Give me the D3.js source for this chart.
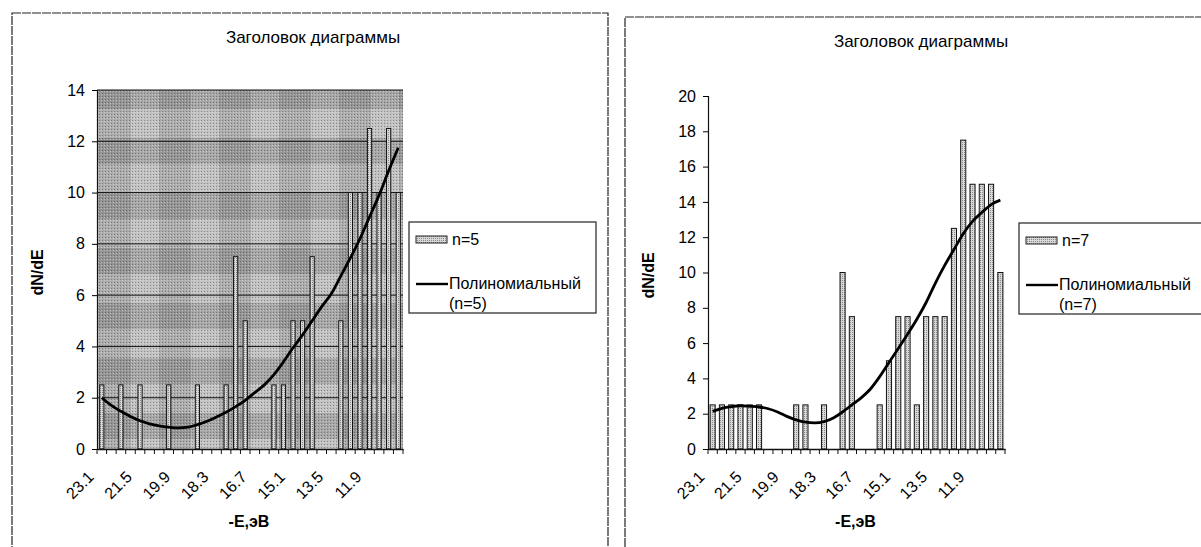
<!DOCTYPE html>
<html>
<head>
<meta charset="utf-8">
<script src="https://cdn.jsdelivr.net/npm/d3@7"></script>
<style>
    body { margin: 0; background: #fff; }
    svg { display: block; font-family: "Liberation Sans", Arial, sans-serif; }
</style>
</head>
<body>
<svg id="chart" width="1201" height="547"></svg>
<script>
// categories (-E, eV), one per column
var categories = ["23.1", "22.7", "22.3", "21.9", "21.5", "21.1", "20.7", "20.3",
    "19.9", "19.5", "19.1", "18.7", "18.3", "17.9", "17.5", "17.1",
    "16.7", "16.3", "15.9", "15.5", "15.1", "14.7", "14.3", "13.9",
    "13.5", "13.1", "12.7", "12.3", "11.9", "11.5", "11.1", "10.7"];
var xTickLabels = ["23.1", "21.5", "19.9", "18.3", "16.7", "15.1", "13.5", "11.9"];

// n=5 series and its polynomial trend
var valuesN5 = [2.5, 0, 2.5, 0, 2.5, 0, 0, 2.5, 0, 0, 2.5, 0, 0, 2.5, 7.5, 5,
    0, 0, 2.5, 2.5, 5, 5, 7.5, 0, 0, 5, 10, 10, 12.5, 10, 12.5, 10];
var trendN5 = [2.0, 1.7, 1.47, 1.27, 1.1, 0.98, 0.9, 0.85, 0.82, 0.85, 0.95, 1.08, 1.25, 1.43, 1.65, 1.9,
    2.2, 2.5, 2.9, 3.4, 3.95, 4.45, 5.0, 5.55, 6.05, 6.75, 7.45, 8.2, 9.05, 9.9, 10.85, 11.75];

// n=7 series and its polynomial trend
var valuesN7 = [2.5, 2.5, 2.5, 2.5, 2.5, 2.5, 0, 0, 0, 2.5, 2.5, 0, 2.5, 0, 10, 7.5,
    0, 0, 2.5, 5, 7.5, 7.5, 2.5, 7.5, 7.5, 7.5, 12.5, 17.5, 15, 15, 15, 10];
var trendN7 = [2.13, 2.3, 2.4, 2.45, 2.42, 2.38, 2.28, 2.1, 1.85, 1.65, 1.52, 1.48, 1.55, 1.76, 2.1, 2.5,
    2.9, 3.4, 4.1, 4.9, 5.7, 6.5, 7.35, 8.3, 9.4, 10.4, 11.3, 12.2, 12.9, 13.4, 13.85, 14.1];

var yTicksN5 = [0, 2, 4, 6, 8, 10, 12, 14];
var yTicksN7 = [0, 2, 4, 6, 8, 10, 12, 14, 16, 18, 20];

var chartTitle = "Заголовок диаграммы";
var yTitle = "dN/dE";
var xTitle = "-E,эВ";

var svg = d3.select("#chart");
var defs = svg.append("defs");

// scanned halftone look for the left plot area
var plaid = defs.append("pattern")
    .attr("id", "plaid")
    .attr("patternUnits", "userSpaceOnUse")
    .attr("width", 60).attr("height", 55)
    .attr("x", 97).attr("y", 83);
plaid.append("rect").attr("width", 60).attr("height", 55).attr("fill", "#c2c2c2");
plaid.append("rect").attr("x", 2).attr("width", 32).attr("height", 55).attr("fill", "#000").attr("opacity", 0.11);
plaid.append("rect").attr("y", 0).attr("width", 60).attr("height", 26).attr("fill", "#000").attr("opacity", 0.14);

var grain = defs.append("pattern")
    .attr("id", "grain")
    .attr("patternUnits", "userSpaceOnUse")
    .attr("width", 3).attr("height", 3);
grain.append("rect").attr("width", 1).attr("height", 1).attr("fill", "#000").attr("opacity", 0.3);
grain.append("rect").attr("x", 2).attr("y", 1).attr("width", 1).attr("height", 1).attr("fill", "#fff").attr("opacity", 0.35);

var barFill = defs.append("pattern")
    .attr("id", "barfill")
    .attr("patternUnits", "userSpaceOnUse")
    .attr("width", 2).attr("height", 2);
barFill.append("rect").attr("width", 2).attr("height", 2).attr("fill", "#d8d8d8");
barFill.append("rect").attr("width", 1).attr("height", 1).attr("fill", "#8a8a8a");

function drawChart(cfg) {
    var g = svg.append("g");

    // outer frame
    g.append("rect")
        .attr("x", cfg.frame[0]).attr("y", cfg.frame[1])
        .attr("width", cfg.frame[2]).attr("height", cfg.frame[3])
        .attr("fill", "none").attr("stroke", "#222").attr("stroke-width", 1.2)
        .attr("stroke-dasharray", "9,1");

    var x = d3.scaleBand()
        .domain(categories)
        .range([cfg.plot.x0, cfg.plot.x1])
        .paddingInner(cfg.pad)
        .paddingOuter(cfg.pad / 2);
    var y = d3.scaleLinear()
        .domain([0, cfg.yMax])
        .range([cfg.plot.y1, cfg.plot.y0]);

    if (cfg.background) {
        g.append("rect")
            .attr("x", cfg.plot.x0).attr("y", cfg.plot.y0)
            .attr("width", cfg.plot.x1 - cfg.plot.x0).attr("height", cfg.plot.y1 - cfg.plot.y0)
            .attr("fill", "url(#plaid)");
        g.append("rect")
            .attr("x", cfg.plot.x0).attr("y", cfg.plot.y0)
            .attr("width", cfg.plot.x1 - cfg.plot.x0).attr("height", cfg.plot.y1 - cfg.plot.y0)
            .attr("fill", "url(#grain)");
    }

    if (cfg.grid) {
        g.append("g")
            .selectAll("line")
            .data(cfg.yTicks.slice(1))
            .enter()
            .append("line")
            .attr("x1", cfg.plot.x0).attr("x2", cfg.plot.x1)
            .attr("y1", function (d) { return y(d); })
            .attr("y2", function (d) { return y(d); })
            .attr("stroke", "#111").attr("stroke-width", 1);
    }

    // bars
    g.append("g")
        .selectAll("rect")
        .data(cfg.values.map(function (v, i) { return { c: categories[i], v: v }; })
            .filter(function (d) { return d.v > 0; }))
        .enter()
        .append("rect")
        .attr("x", function (d) { return x(d.c); })
        .attr("y", function (d) { return y(d.v); })
        .attr("width", x.bandwidth())
        .attr("height", function (d) { return y(0) - y(d.v); })
        .attr("fill", "url(#barfill)")
        .attr("stroke", "#111").attr("stroke-width", 1);

    // y axis
    var yAxis = g.append("g")
        .attr("transform", "translate(" + cfg.plot.x0 + ",0)")
        .call(d3.axisLeft(y).tickValues(cfg.yTicks).tickSize(5).tickPadding(7));
    yAxis.select(".domain").attr("stroke", "#111").attr("stroke-width", 1.2);
    yAxis.selectAll("text").attr("font-size", 16).attr("fill", "#000");

    // x axis: line, ticks between categories, rotated labels every 4th
    var xAxis = g.append("g")
        .attr("transform", "translate(0," + cfg.plot.y1 + ")")
        .call(d3.axisBottom(x).tickValues(xTickLabels).tickSize(0).tickPadding(0));
    xAxis.select(".domain").attr("stroke", "#111").attr("stroke-width", 1.5);
    xAxis.selectAll("text")
        .attr("font-size", 16).attr("fill", "#000")
        .attr("text-anchor", "end")
        .attr("dy", 0)
        .attr("transform", "translate(-7,29) rotate(-45)");
    var step = x.step();
    xAxis.append("g")
        .selectAll("line")
        .data(d3.range(categories.length + 1))
        .enter()
        .append("line")
        .attr("x1", function (i) { return cfg.plot.x0 + i * step; })
        .attr("x2", function (i) { return cfg.plot.x0 + i * step; })
        .attr("y1", 0).attr("y2", 5)
        .attr("stroke", "#111");

    // polynomial trend line
    var line = d3.line()
        .x(function (d, i) { return x(categories[i]) + x.bandwidth() / 2; })
        .y(function (d) { return y(d); })
        .curve(d3.curveMonotoneX);
    g.append("path")
        .attr("d", line(cfg.trend))
        .attr("fill", "none")
        .attr("stroke", "#000")
        .attr("stroke-width", 2.8);

    // titles
    g.append("text")
        .attr("x", cfg.titleX).attr("y", cfg.titleY)
        .attr("text-anchor", "middle")
        .attr("font-size", 17)
        .text(chartTitle);
    g.append("text")
        .attr("transform", "translate(" + (cfg.plot.x0 - 54) + "," + ((cfg.plot.y0 + cfg.plot.y1) / 2 + 3) + ") rotate(-90)")
        .attr("text-anchor", "middle")
        .attr("font-size", 16).attr("font-weight", "bold")
        .text(yTitle);
    g.append("text")
        .attr("x", (cfg.plot.x0 + cfg.plot.x1) / 2 - 1).attr("y", cfg.plot.y1 + 78)
        .attr("text-anchor", "middle")
        .attr("font-size", 16).attr("font-weight", "bold")
        .text(xTitle);

    // legend
    var lg = g.append("g").attr("transform", "translate(" + cfg.legend[0] + "," + cfg.legend[1] + ")");
    lg.append("rect")
        .attr("width", cfg.legend[2]).attr("height", cfg.legend[3])
        .attr("fill", "#fff").attr("stroke", "#222").attr("stroke-width", 1.2);
    lg.append("rect")
        .attr("x", 7).attr("y", 14).attr("width", 31).attr("height", 7)
        .attr("fill", "url(#barfill)").attr("stroke", "#222").attr("stroke-width", 1);
    lg.append("text").attr("x", 43).attr("y", 23).attr("font-size", 16).text(cfg.name);
    lg.append("line")
        .attr("x1", 7).attr("x2", 39).attr("y1", 62).attr("y2", 62)
        .attr("stroke", "#000").attr("stroke-width", 2.4);
    lg.append("text").attr("x", 40).attr("y", 67).attr("font-size", 16).text("Полиномиальный");
    lg.append("text").attr("x", 40).attr("y", 87).attr("font-size", 16).text("(" + cfg.name + ")");
}

drawChart({
    frame: [12, 13, 596, 560],
    plot: { x0: 97, x1: 403, y0: 90, y1: 449 },
    yMax: 14,
    yTicks: yTicksN5,
    values: valuesN5,
    trend: trendN5,
    pad: 0.56,
    background: true,
    grid: true,
    titleX: 313,
    titleY: 43,
    name: "n=5",
    legend: [409, 222, 187, 91]
});

drawChart({
    frame: [625, 17, 620, 560],
    plot: { x0: 708, x1: 1005, y0: 96, y1: 449 },
    yMax: 20,
    yTicks: yTicksN7,
    values: valuesN7,
    trend: trendN7,
    pad: 0.45,
    background: false,
    grid: false,
    titleX: 921,
    titleY: 47,
    name: "n=7",
    legend: [1019, 223, 200, 91]
});
</script>
</body>
</html>
